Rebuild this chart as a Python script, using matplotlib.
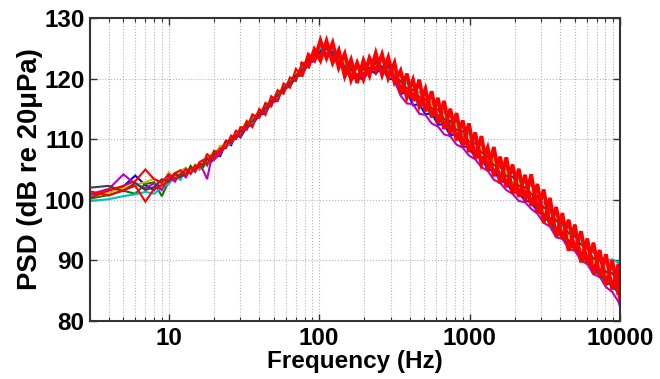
"""
PSD spectra of repeated measurements, MATLAB-style log-frequency plot.
"""
import numpy as np
import matplotlib
matplotlib.use("Agg")
import matplotlib.pyplot as plt
from matplotlib.ticker import LogLocator, FixedLocator, NullFormatter, FuncFormatter

plt.rcParams["font.family"] = ["Liberation Sans", "DejaVu Sans"]
plt.rcParams["font.weight"] = "bold"

# ── data ─────────────────────────────────────────────────────────────────────
freq_hz = [3, 4, 5, 6, 7, 8, 9, 10, 11, 12, 13, 14, 15, 16, 17, 18, 19, 20,
           22, 24, 26, 28, 30, 33, 36, 40, 44, 48, 53, 58, 64, 70, 77, 85, 93,
           102, 112, 123, 135, 148, 163, 179, 197, 216, 238, 262, 288,
           317, 348, 383, 421, 463, 509, 560, 616, 677, 745, 819, 901, 991,
           1090, 1199, 1319, 1451, 1596, 1756, 1931, 2124, 2337, 2570, 2827,
           3110, 3421, 3763, 4139, 4553, 5008, 5509, 6060, 6666, 7333, 8066,
           8873, 9760, 10000]

psd_blue = [100.6, 101.5, 102.2, 104.0, 102.4, 101.6, 102.9, 103.2, 104.4, 103.6,
            104.9, 104.4, 105.6, 105.0, 106.3, 105.9, 106.4, 107.3,
            107.2, 109.4, 109.0, 110.8, 110.3, 112.0, 112.4, 114.0, 114.3, 116.0,
            116.4, 118.6, 118.7, 120.3, 120.6, 122.6, 122.9,
            124.8, 123.8, 124.6, 122.0, 121.9, 119.9, 120.3, 119.8, 121.5, 120.8,
            121.9, 120.0, 119.8,
            117.4, 117.9, 115.6, 115.8, 114.1, 114.3, 112.4, 112.5, 110.6, 110.9,
            108.8, 108.7, 107.0, 107.1, 104.9, 104.9, 103.1, 102.9, 101.2, 101.2,
            99.8, 99.7, 98.0, 97.5, 96.2, 95.2, 93.9, 93.3, 91.9, 91.3, 89.9, 89.0,
            87.7, 86.5, 85.8, 84.7, 84.2]

psd_green = [100.2, 100.8, 101.5, 101.0, 102.6, 102.9, 100.6, 103.0, 103.5, 104.8,
             104.0, 105.6, 104.7, 105.9, 105.4, 106.9, 106.2, 107.6,
             108.6, 108.5, 110.4, 110.0, 111.8, 111.6, 113.8, 113.7, 115.8, 115.5,
             117.9, 117.6, 119.9, 119.6, 122.2, 121.9, 124.3,
             123.9, 125.3, 123.4, 123.9, 121.2, 122.0, 120.0, 121.9, 121.0, 122.9,
             121.3, 122.3, 119.6,
             118.8, 117.2, 117.3, 115.6, 115.6, 113.8, 113.9, 112.0, 112.2, 110.2,
             110.4, 108.3, 108.5, 106.5, 106.6, 104.4, 104.6, 102.6, 102.8, 100.9,
             101.3, 99.4, 98.9, 97.0, 96.4, 94.0, 94.3, 92.1, 92.3, 90.0, 90.2, 87.8,
             88.1, 86.1, 86.2, 84.5, 84.1]

psd_cyan = [99.8, 100.1, 100.6, 100.9, 101.3, 101.0, 102.0, 102.6, 103.8, 103.3,
            104.9, 104.3, 105.4, 105.0, 106.2, 105.6, 107.0, 106.6,
            108.4, 108.8, 109.3, 110.9, 110.6, 112.6, 112.7, 114.4, 114.6, 116.6,
            116.8, 118.2, 119.8, 120.0, 122.1, 122.6, 123.5,
            125.1, 124.2, 124.9, 122.6, 122.8, 120.6, 121.6, 120.7, 122.5, 121.8,
            123.0, 121.0, 120.9,
            118.7, 119.3, 117.2, 117.8, 115.6, 116.2, 113.8, 114.5, 112.3, 112.9,
            110.4, 110.9, 108.5, 109.1, 106.4, 107.2, 104.3, 105.2, 102.7, 103.4,
            101.3, 102.6, 99.8, 99.6, 97.8, 97.6, 95.6, 95.3, 93.9, 93.3, 92.2, 91.2,
            90.7, 89.9, 90.2, 89.6, 90.0]

psd_magenta = [100.9, 101.8, 104.2, 102.6, 101.9, 102.7, 101.6, 103.9, 103.0, 104.5,
               103.7, 105.2, 104.6, 105.9, 104.8, 103.4, 106.2, 106.6,
               107.6, 109.0, 109.6, 110.2, 111.4, 111.6, 113.6, 113.9, 114.8, 115.9,
               117.2, 118.0, 118.9, 120.5, 121.3, 122.4, 123.6,
               124.2, 124.9, 123.6, 123.4, 121.6, 121.4, 120.2, 120.9, 121.2, 122.3,
               121.6, 121.2, 119.7,
               117.2, 115.9, 115.8, 114.2, 114.0, 112.6, 112.1, 110.8, 110.5, 109.1,
               108.6, 107.3, 106.7, 105.4, 104.8, 103.3, 102.8, 101.6, 101.0, 99.8,
               99.6, 98.5, 97.7, 96.2, 95.6, 93.8, 93.6, 91.9, 91.6, 90.0, 89.4, 87.7,
               87.3, 85.6, 84.8, 83.2, 82.4]

psd_yellow = [100.5, 101.2, 101.9, 102.5, 102.9, 103.5, 102.3, 104.5, 103.6, 104.8,
              105.3, 104.6, 105.8, 105.2, 106.4, 106.0, 107.4, 107.0,
              108.9, 109.0, 110.3, 110.8, 111.5, 112.9, 113.1, 114.8, 115.0, 116.8,
              117.0, 118.9, 119.2, 121.1, 121.3, 123.4, 123.5,
              125.6, 125.0, 124.9, 123.5, 122.8, 121.3, 121.6, 121.3, 122.7, 122.0,
              123.1, 121.5, 121.3,
              119.0, 118.6, 117.5, 117.4, 115.8, 115.9, 113.9, 113.9, 111.9, 112.4,
              110.1, 110.5, 108.3, 108.6, 106.4, 106.6, 104.2, 104.7, 102.4, 103.0,
              101.2, 101.4, 99.4, 98.8, 97.0, 96.6, 94.9, 94.2, 93.0, 91.9, 90.9, 90.1,
              88.6, 88.0, 86.6, 86.3, 85.7]

psd_gray = [102.0, 102.3, 101.4, 102.8, 101.6, 102.1, 103.4, 103.0, 104.2, 103.9,
            104.2, 105.4, 104.9, 106.0, 105.7, 106.8, 106.5, 107.5,
            107.9, 109.6, 109.9, 110.6, 111.3, 112.4, 113.0, 114.3, 115.1, 116.3,
            117.2, 118.4, 119.3, 120.5, 121.5, 122.9, 123.9,
            124.4, 125.0, 124.0, 123.6, 122.0, 121.5, 120.6, 121.6, 121.7, 122.6,
            122.0, 121.9, 120.3,
            119.6, 118.4, 118.2, 116.9, 116.6, 115.1, 114.9, 113.3, 113.0, 111.5,
            111.3, 109.6, 109.4, 107.8, 107.2, 105.7, 105.5, 103.9, 103.8, 102.3,
            102.1, 100.9, 100.6, 98.7, 98.4, 96.5, 96.1, 94.5, 94.0, 92.6, 92.0, 90.3,
            90.0, 88.1, 87.9, 86.4, 86.0]

psd_red_a = [100.3, 101.6, 102.3, 103.1, 105.0, 103.4, 102.9, 104.2, 103.5, 104.1,
             105.1, 104.3, 105.7, 105.3, 106.0, 107.6, 106.8, 108.1,
             107.7, 109.8, 109.3, 111.5, 110.5, 113.0, 112.0, 115.0, 114.0, 117.1,
             116.3, 119.2, 118.5, 121.6, 120.6, 123.9, 123.0,
             126.3, 123.4, 125.9, 121.8, 124.1, 119.8, 122.6, 119.9, 123.4, 121.2,
             124.0, 120.1, 122.6,
             117.6, 120.8, 116.3, 119.8, 114.6, 117.9, 112.6, 116.3, 110.9, 114.3,
             108.9, 112.6, 106.8, 110.5, 104.8, 108.7, 102.7, 107.0, 101.0, 105.1,
             99.9, 104.2, 97.9, 101.7, 95.7, 98.8, 93.5, 96.7, 91.6, 94.8, 89.4, 92.9,
             87.2, 91.0, 85.2, 89.4, 83.6]

psd_red_b = [101.4, 100.7, 101.6, 102.3, 99.7, 101.8, 102.4, 103.1, 104.4, 104.9,
             104.0, 105.2, 104.8, 106.2, 106.6, 105.8, 107.2, 106.9,
             108.5, 108.6, 110.6, 110.1, 112.0, 111.7, 114.1, 113.5, 116.0, 115.4,
             118.1, 117.5, 120.2, 119.8, 122.5, 122.0, 124.8,
             123.0, 126.2, 122.6, 124.7, 120.4, 123.1, 119.3, 123.0, 120.5, 124.2,
             120.6, 123.5, 119.4,
             121.3, 116.9, 119.8, 115.5, 118.3, 113.6, 116.8, 111.7, 115.0, 109.8,
             113.1, 107.9, 111.1, 105.9, 108.6, 103.9, 107.1, 102.1, 105.8, 100.5,
             104.1, 99.0, 102.6, 96.2, 100.3, 94.0, 97.8, 91.6, 95.9, 89.7, 93.6, 87.8,
             91.7, 85.9, 90.0, 84.3, 88.5]

# MATLAB colour order, red drawn last so it sits on top
series = [
    (psd_blue,    (0.0, 0.0, 1.0)),
    (psd_green,   (0.0, 0.5, 0.0)),
    (psd_cyan,    (0.0, 0.75, 0.75)),
    (psd_magenta, (0.75, 0.0, 0.75)),
    (psd_yellow,  (0.75, 0.75, 0.0)),
    (psd_gray,    (0.25, 0.25, 0.25)),
    (psd_red_a,   (1.0, 0.0, 0.0)),
    (psd_red_b,   (1.0, 0.0, 0.0)),
]
RED = (1.0, 0.0, 0.0)
DENSE_FROM = 32   # index where the red traces blur into a thick band (~77 Hz)

# ── plot ─────────────────────────────────────────────────────────────────────
fig = plt.figure(figsize=(6.6, 3.79), dpi=100)
ax = fig.add_axes([90 / 660, 58 / 379, 530 / 660, 303 / 379])

for vals, col in series:
    ax.semilogx(freq_hz, vals, color=col, lw=1.5, solid_joinstyle="miter")
    if col == RED:
        ax.semilogx(freq_hz[DENSE_FROM:], vals[DENSE_FROM:], color=col, lw=2.7,
                    solid_joinstyle="miter")

ax.set_xlim(3, 10000)
ax.set_ylim(80, 130)

ax.xaxis.set_major_locator(FixedLocator([10, 100, 1000, 10000]))
ax.xaxis.set_minor_locator(LogLocator(base=10, subs=np.arange(2, 10), numticks=20))
ax.xaxis.set_minor_formatter(NullFormatter())
ax.xaxis.set_major_formatter(FuncFormatter(lambda v, _: f"{v:.0f}"))
ax.set_yticks([80, 90, 100, 110, 120, 130])

ax.grid(True, which="major", color="#b4b4b4", ls=":", lw=0.8)
ax.grid(True, which="minor", axis="x", color="#b4b4b4", ls=":", lw=0.8)

ax.tick_params(which="both", direction="in", top=True, right=True,
               labelsize=17.5, color="#333333", pad=4)
ax.tick_params(which="major", length=5, width=1.0)
ax.tick_params(which="minor", length=3, width=0.8)
for lbl in ax.get_xticklabels() + ax.get_yticklabels():
    lbl.set_fontweight("bold")
for s in ax.spines.values():
    s.set_color("#333333")
    s.set_linewidth(1.5)

ax.set_xlabel("Frequency (Hz)", fontsize=17.5, fontweight="bold", labelpad=0)
ax.set_ylabel("PSD (dB re 20\u03bcPa)", fontsize=19.8, fontweight="bold", labelpad=1)

fig.savefig("out.png", dpi=100)
